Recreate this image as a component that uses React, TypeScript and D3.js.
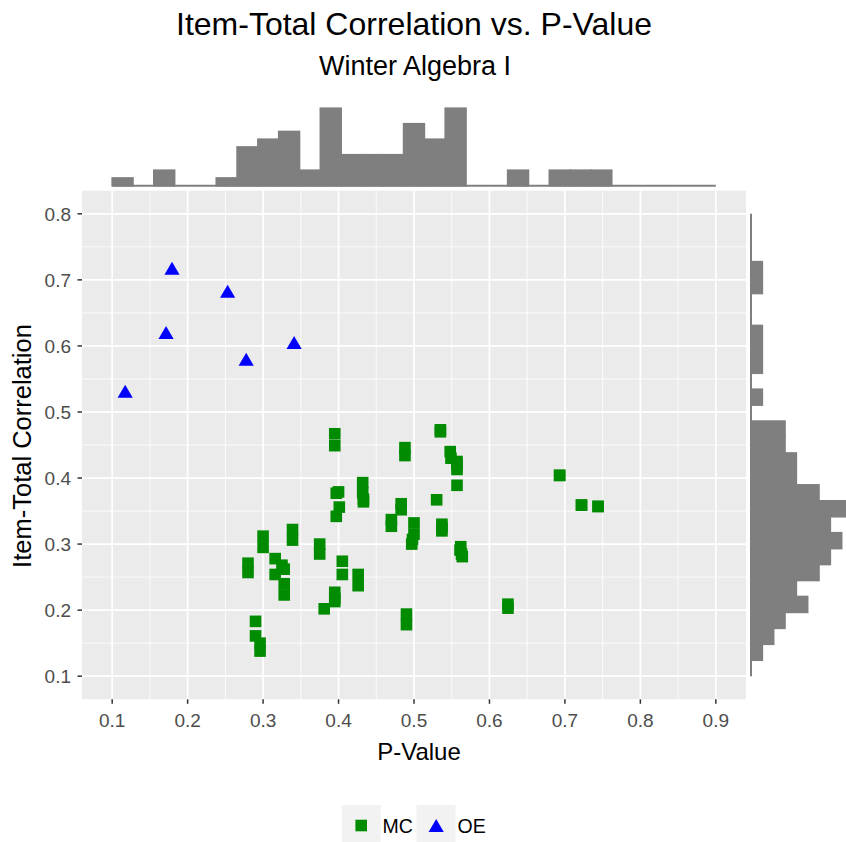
import React from "react";
import * as d3 from "d3";

// ---- data ----
const mcPValue = [
  0.395, 0.395, 0.488, 0.488, 0.535, 0.548, 0.549, 0.557, 0.557, 0.557,
  0.432, 0.432, 0.433, 0.4, 0.397, 0.401, 0.397, 0.483, 0.483, 0.47,
  0.47, 0.5, 0.5, 0.497, 0.53, 0.537, 0.537, 0.561, 0.564, 0.3,
  0.3, 0.28, 0.28, 0.339, 0.339, 0.316, 0.325, 0.316, 0.328, 0.328,
  0.375, 0.375, 0.405, 0.405, 0.426, 0.426, 0.395, 0.395, 0.381, 0.49,
  0.49, 0.29, 0.29, 0.296, 0.296, 0.693, 0.693, 0.722, 0.722, 0.744,
  0.744, 0.6245, 0.6245, 0.557, 0.562, 0.563, 0.535, 0.537, 0.498, 0.433,
  0.395, 0.328,
];
const mcCorr = [
  0.467, 0.449, 0.446, 0.434, 0.473, 0.44, 0.43, 0.425, 0.413, 0.389,
  0.393, 0.378, 0.368, 0.379, 0.377, 0.356, 0.342, 0.361, 0.352, 0.337,
  0.327, 0.332, 0.315, 0.3, 0.367, 0.33, 0.32, 0.291, 0.281, 0.312,
  0.295, 0.271, 0.257, 0.322, 0.306, 0.278, 0.268, 0.254, 0.24, 0.223,
  0.3, 0.285, 0.274, 0.254, 0.254, 0.237, 0.227, 0.213, 0.202, 0.194,
  0.178, 0.183, 0.161, 0.15, 0.138, 0.404, 0.404, 0.359, 0.359, 0.357,
  0.357, 0.209, 0.203, 0.42, 0.296, 0.285, 0.47, 0.325, 0.307, 0.364,
  0.218, 0.262,
];
const oePValue = [0.1172, 0.1714, 0.1793, 0.253, 0.2776, 0.3411];
const oeCorr = [0.5314, 0.62, 0.7175, 0.6828, 0.5797, 0.605];

const xTicks = [0.1, 0.2, 0.3, 0.4, 0.5, 0.6, 0.7, 0.8, 0.9];
const yTicks = [0.1, 0.2, 0.3, 0.4, 0.5, 0.6, 0.7, 0.8];
const xMinor = [0.15, 0.25, 0.35, 0.45, 0.55, 0.65, 0.75, 0.85];
const yMinor = [0.15, 0.25, 0.35, 0.45, 0.55, 0.65, 0.75];
const legendLabels = ["MC", "OE"];

const FONT = "'Liberation Sans', Arial, Helvetica, sans-serif";
const GREEN = "#008B00";
const BLUE = "#0000FF";
const HIST = "#7F7F7F";

export default function App() {
  const W = 846;
  const H = 842;
  const x = d3.scaleLinear().domain([0.06, 0.94]).range([82, 746]);
  const y = d3.scaleLinear().domain([0.065, 0.835]).range([699.3, 190.7]);

  const allP = [...mcPValue, ...oePValue];
  const allR = [...mcCorr, ...oeCorr];

  const xBins = d3
    .bin()
    .domain([0.1, 0.9])
    .thresholds(d3.range(1, 29).map((k) => 0.1 + (k * 0.8) / 29))(allP);
  const yBins = d3
    .bin()
    .domain([0.1, 0.8])
    .thresholds(d3.range(1, 29).map((k) => 0.1 + (k * 0.7) / 29))(allR);

  const topH = d3.scaleLinear().domain([0, 10]).range([185.7, 108.2]);
  const rightW = d3.scaleLinear().domain([0, 9]).range([751, 853]);

  const [x0, x1] = x.range();
  const [yb, yt] = y.range();

  const sq = 11.6;
  const tri = (cx: number, cy: number) =>
    `M${cx},${cy - 6.6}L${cx + 7.6},${cy + 6.4}L${cx - 7.6},${cy + 6.4}Z`;

  return (
    <svg
      width={W}
      height={H}
      viewBox={`0 0 ${W} ${H}`}
      style={{ position: "absolute", left: 0, top: 0, display: "block", background: "#fff" }}
      fontFamily={FONT}
    >
      {/* titles */}
      <text x={414} y={35} textAnchor="middle" fontSize={32} fill="#000">
        Item-Total Correlation vs. P-Value
      </text>
      <text x={415} y={75} textAnchor="middle" fontSize={27} fill="#000">
        Winter Algebra I
      </text>

      {/* top marginal histogram */}
      <g>
        <line
          x1={x(0.1)}
          x2={x(0.9)}
          y1={topH(0)}
          y2={topH(0)}
          stroke={HIST}
          strokeWidth={2}
        />
        {xBins.map((b, i) => (
          <rect
            key={i}
            x={x(b.x0 as number)}
            y={topH(b.length)}
            width={x(b.x1 as number) - x(b.x0 as number)}
            height={topH(0) - topH(b.length)}
            fill={HIST}
            stroke={HIST}
            strokeWidth={1.6}
          />
        ))}
      </g>

      {/* panel */}
      <rect x={x0} y={yt} width={x1 - x0} height={yb - yt} fill="#EBEBEB" />
      {xMinor.map((v) => (
        <line key={"xm" + v} x1={x(v)} x2={x(v)} y1={yt} y2={yb} stroke="#fff" strokeWidth={0.8} />
      ))}
      {yMinor.map((v) => (
        <line key={"ym" + v} x1={x0} x2={x1} y1={y(v)} y2={y(v)} stroke="#fff" strokeWidth={0.8} />
      ))}
      {xTicks.map((v) => (
        <line key={"xM" + v} x1={x(v)} x2={x(v)} y1={yt} y2={yb} stroke="#fff" strokeWidth={1.7} />
      ))}
      {yTicks.map((v) => (
        <line key={"yM" + v} x1={x0} x2={x1} y1={y(v)} y2={y(v)} stroke="#fff" strokeWidth={1.7} />
      ))}

      {/* points */}
      {mcPValue.map((p, i) => (
        <rect
          key={"mc" + i}
          x={x(p) - sq / 2}
          y={y(mcCorr[i]) - sq / 2}
          width={sq}
          height={sq}
          fill={GREEN}
        />
      ))}
      {oePValue.map((p, i) => (
        <path key={"oe" + i} d={tri(x(p), y(oeCorr[i]))} fill={BLUE} />
      ))}

      {/* right marginal histogram */}
      <g>
        <line
          x1={rightW(0)}
          x2={rightW(0)}
          y1={y(0.8)}
          y2={y(0.1)}
          stroke={HIST}
          strokeWidth={2}
        />
        {yBins.map((b, i) => (
          <rect
            key={i}
            x={rightW(0)}
            y={y(b.x1 as number)}
            width={rightW(b.length) - rightW(0)}
            height={y(b.x0 as number) - y(b.x1 as number)}
            fill={HIST}
            stroke={HIST}
            strokeWidth={1.6}
          />
        ))}
      </g>

      {/* axes ticks & labels */}
      {xTicks.map((v) => (
        <g key={"xt" + v}>
          <line x1={x(v)} x2={x(v)} y1={yb} y2={yb + 4.5} stroke="#333" strokeWidth={1.5} />
          <text x={x(v)} y={727} textAnchor="middle" fontSize={19} fill="#4D4D4D">
            {v.toFixed(1)}
          </text>
        </g>
      ))}
      {yTicks.map((v) => (
        <g key={"yt" + v}>
          <line x1={x0 - 4.5} x2={x0} y1={y(v)} y2={y(v)} stroke="#333" strokeWidth={1.5} />
          <text x={71} y={y(v) + 6.8} textAnchor="end" fontSize={19} fill="#4D4D4D">
            {v.toFixed(1)}
          </text>
        </g>
      ))}

      {/* axis titles */}
      <text x={419} y={760} textAnchor="middle" fontSize={24} fill="#000">
        P-Value
      </text>
      <text
        transform={`translate(31, ${(yt + yb) / 2 + 1}) rotate(-90)`}
        textAnchor="middle"
        fontSize={25.5}
        fill="#000"
      >
        Item-Total Correlation
      </text>

      {/* legend */}
      <g>
        <rect x={341.7} y={805} width={39} height={40} fill="#F2F2F2" />
        <rect x={361.2 - 5.8} y={825.5 - 5.8} width={sq} height={sq} fill={GREEN} />
        <text x={382.5} y={832.5} fontSize={19.5} fill="#000">
          {legendLabels[0]}
        </text>
        <rect x={416.5} y={805} width={39} height={40} fill="#F2F2F2" />
        <path d={tri(436.2, 825.5)} fill={BLUE} />
        <text x={457.5} y={832.5} fontSize={19.5} fill="#000">
          {legendLabels[1]}
        </text>
      </g>
    </svg>
  );
}
